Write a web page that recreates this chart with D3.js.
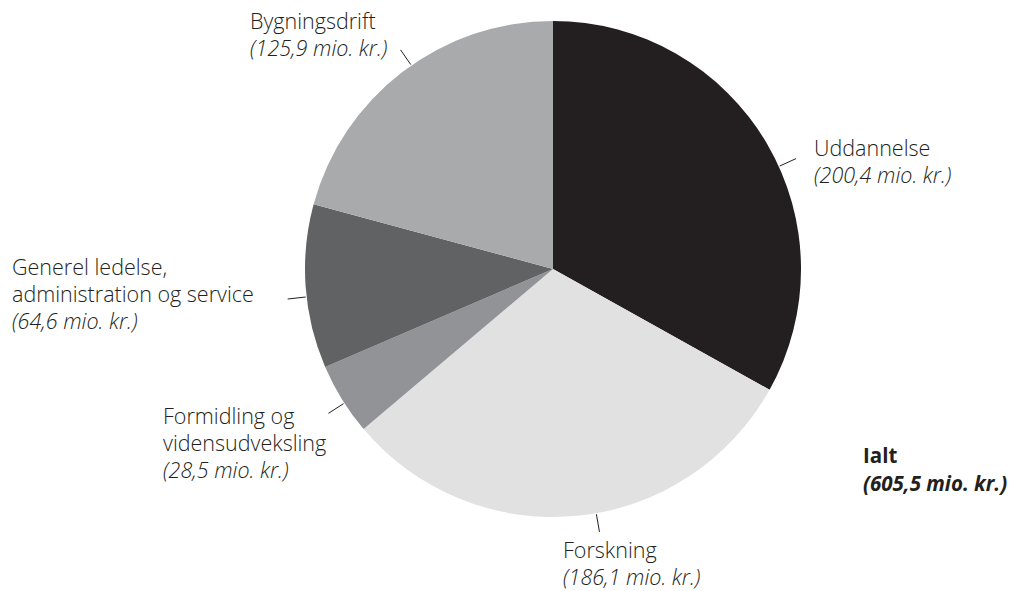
<!DOCTYPE html>
<html><head><meta charset="utf-8">
<script src="https://cdn.jsdelivr.net/npm/d3@7"></script>
<style>
html,body{margin:0;padding:0;background:#fff;}
svg text{font-family:"Open Sans",sans-serif;font-size:21.5px;font-weight:300;fill:#231f20;}
</style></head>
<body><svg id="chart" width="1024" height="591"></svg>
<script>
// Data
const categories = ["Uddannelse","Forskning","Formidling og vidensudveksling","Generel ledelse, administration og service","Bygningsdrift"];
const values = [200.4, 186.1, 28.5, 64.6, 125.9];
const valueLabels = ["(200,4 mio. kr.)","(186,1 mio. kr.)","(28,5 mio. kr.)","(64,6 mio. kr.)","(125,9 mio. kr.)"];
const nameLines = [["Uddannelse"],["Forskning"],["Formidling og","vidensudveksling"],["Generel ledelse,","administration og service"],["Bygningsdrift"]];
const totalLabel = ["Ialt","(605,5 mio. kr.)"];

// Styles / layout (not data)
const colors = ["#231f20","#e1e1e2","#929396","#616264","#a9aaac"];
const leaderShiftDeg = [6, -4.5, -1, -2.4, 2.6];
const labelPos = [[814,156],[563,558],[163,424],[12,275],[250,29]];
const cx = 553, cy = 269, R = 248, lineH = 27;

const svg = d3.select("#chart");
const g = svg.append("g").attr("transform",`translate(${cx},${cy})`);
const pie = d3.pie().sort(null).value(d=>d)(values);
const arc = d3.arc().innerRadius(0).outerRadius(R);

g.selectAll("path.slice").data(pie).join("path")
  .attr("class","slice").attr("d",arc).attr("fill",(d,i)=>colors[i]);

pie.forEach((d,i)=>{
  const a = (d.startAngle+d.endAngle)/2 + leaderShiftDeg[i]*Math.PI/180;
  const s = Math.sin(a), c = -Math.cos(a);
  g.append("line")
    .attr("x1",(R+1)*s).attr("y1",(R+1)*c)
    .attr("x2",(R+19)*s).attr("y2",(R+19)*c)
    .attr("stroke","#231f20").attr("stroke-width",1);
  const [lx,ly] = labelPos[i];
  const t = svg.append("text").attr("x",lx).attr("y",ly);
  const lines = nameLines[i];
  lines.forEach((ln,j)=>{
    t.append("tspan").attr("x",lx).attr("y",ly+j*lineH).text(ln);
  });
  t.append("tspan").attr("x",lx).attr("y",ly+lines.length*lineH)
    .attr("font-style","italic").text(valueLabels[i]);
});

const tt = svg.append("text").attr("x",863).attr("y",463)
  .style("font-weight","bold").style("font-size","20.5px");
tt.append("tspan").attr("x",863).attr("y",463).text(totalLabel[0]);
tt.append("tspan").attr("x",863).attr("y",491).attr("font-style","italic").text(totalLabel[1]);
</script></body></html>
